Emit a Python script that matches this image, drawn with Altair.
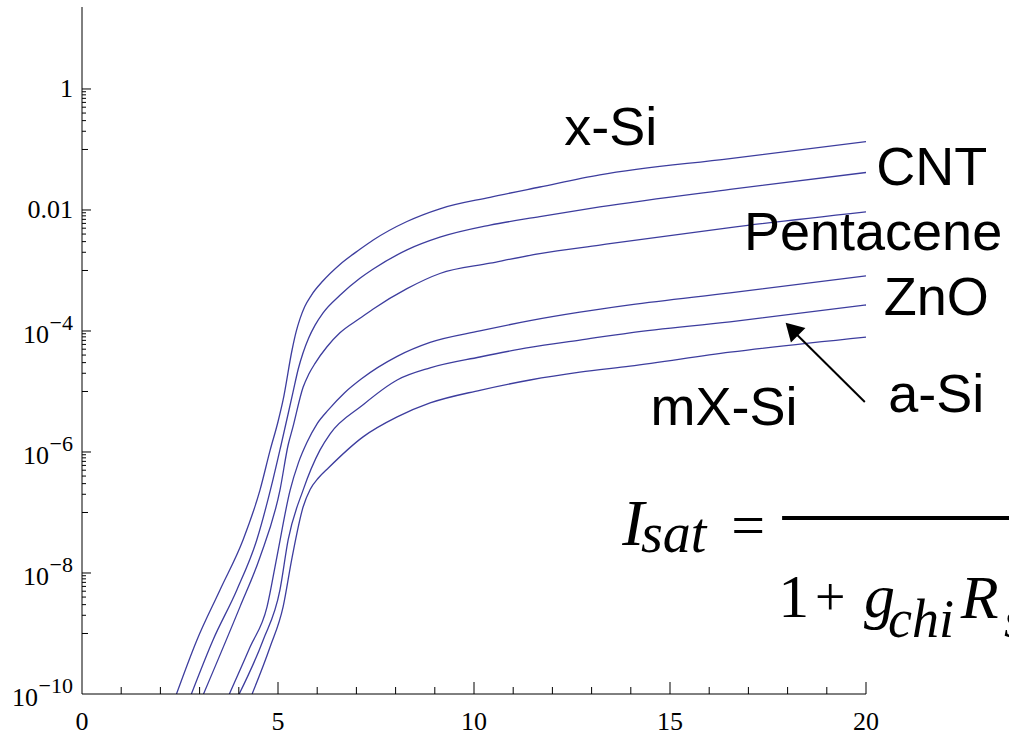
import altair as alt
import pandas as pd
import math

# ---------------- data (x = gate voltage, log_i = log10 of current) ----------------
series_names = ["x-Si", "CNT", "Pentacene", "ZnO", "a-Si", "mX-Si"]

xsi_x = [2.41, 2.93, 3.52, 4.11, 4.54, 4.80, 5.00, 5.13, 5.36, 5.46, 5.56, 5.68, 5.85, 6.15, 6.58, 7.09, 7.42, 8.29, 9.13, 10.41, 11.68, 13.21, 16.53, 20.0]
xsi_lg = [-10.0, -9.11, -8.28, -7.45, -6.63, -5.97, -5.50, -5.14, -4.31, -4.02, -3.80, -3.60, -3.41, -3.17, -2.90, -2.65, -2.50, -2.19, -1.98, -1.79, -1.62, -1.42, -1.15, -0.87]

cnt_x = [2.79, 3.34, 3.95, 4.46, 4.87, 5.08, 5.38, 5.52, 5.64, 5.78, 5.95, 6.15, 6.58, 7.09, 7.42, 8.29, 9.13, 10.41, 11.68, 13.21, 16.53, 20.0]
cnt_lg = [-10.0, -9.11, -8.28, -7.45, -6.46, -5.88, -5.02, -4.62, -4.36, -4.12, -3.90, -3.70, -3.41, -3.13, -2.98, -2.66, -2.45, -2.25, -2.11, -1.95, -1.66, -1.38]

pent_x = [3.10, 4.03, 4.54, 5.05, 5.26, 5.38, 5.64, 5.78, 5.95, 6.25, 6.58, 7.09, 7.42, 8.29, 9.13, 10.41, 11.68, 13.21, 16.53, 20.0]
pent_lg = [-10.0, -8.56, -7.74, -6.63, -5.88, -5.59, -4.93, -4.72, -4.53, -4.26, -4.03, -3.79, -3.64, -3.30, -3.05, -2.88, -2.72, -2.58, -2.29, -2.03]

zno_x = [3.76, 4.29, 4.72, 4.97, 5.31, 5.52, 5.74, 6.00, 6.29, 6.70, 7.13, 8.04, 8.88, 10.15, 11.43, 12.70, 13.98, 16.53, 20.0]
zno_lg = [-10.0, -9.22, -8.56, -7.74, -6.63, -6.18, -5.84, -5.53, -5.30, -5.02, -4.79, -4.42, -4.19, -4.00, -3.83, -3.69, -3.57, -3.37, -3.09]

asi_x = [4.01, 4.62, 5.05, 5.26, 5.64, 6.07, 6.33, 7.13, 8.04, 8.88, 10.15, 11.43, 12.70, 13.98, 16.53, 20.0]
asi_lg = [-10.0, -9.11, -8.28, -7.45, -6.63, -5.97, -5.70, -5.24, -4.81, -4.61, -4.43, -4.27, -4.15, -4.03, -3.85, -3.57]

mxsi_x = [4.34, 4.80, 5.13, 5.36, 5.64, 5.82, 6.03, 6.29, 7.17, 8.04, 8.88, 10.15, 11.43, 12.70, 13.98, 16.53, 20.0]
mxsi_lg = [-10.0, -9.22, -8.56, -7.74, -6.91, -6.62, -6.43, -6.26, -5.75, -5.42, -5.19, -4.98, -4.81, -4.68, -4.58, -4.35, -4.10]

# axis ticks / labels
x_label_values = [0, 5, 10, 15, 20]
x_major_ticks = [5, 10, 15, 20]
x_minor_ticks = [1, 2, 3, 4, 6, 7, 8, 9, 11, 12, 13, 14, 16, 17, 18, 19]
y_label_values = [0, -2, -4, -6, -8, -10]
y_label_base = ["1", "0.01", "10", "10", "10", "10"]
y_label_exp = ["", "", "\u22124", "\u22126", "\u22128", "\u221210"]
y_mid_ticks = [-1, -3, -5, -7, -9]

# curve labels (x, log_i position of text)
label_text = ["x-Si", "CNT", "Pentacene", "ZnO", "a-Si", "mX-Si"]
label_x = [13.49, 21.68, 20.18, 21.79, 21.79, 16.38]
label_y = [-0.926, -1.587, -2.661, -3.736, -5.339, -5.554]

# formula pieces
f_text = ["I", "sat", "=", "1", "+", "g", "chi", "R", "s"]
f_x = [13.78, 14.26, 16.56, 17.76, 18.70, 19.95, 20.56, 22.42, 23.52]
f_y = [-7.537, -7.653, -7.537, -8.727, -8.70, -8.727, -9.058, -8.744, -9.058]
f_size = [66, 56, 60, 62, 54, 62, 54, 62, 54]
f_italic = [True, True, False, False, False, True, True, True, True]
frac_x = [17.86]
frac_x2 = [23.72]
frac_y = [-7.091]

# arrow a-Si -> curve
arrow_tail = (19.97, -5.174)
arrow_shaft_end = (18.22, -4.05)
arrow_head = (18.11, -3.967)

# ---------------- build tables ----------------
rows = []
for name, xs, lg in zip(series_names,
                        [xsi_x, cnt_x, pent_x, zno_x, asi_x, mxsi_x],
                        [xsi_lg, cnt_lg, pent_lg, zno_lg, asi_lg, mxsi_lg]):
    for a, b in zip(xs, lg):
        rows.append({"series": name, "vgs": a, "log_i": b})
df = pd.DataFrame(rows)

W, H = 784, 687
LINE_COLOR = "#3d3d9e"
xscale = alt.Scale(domain=[0, 20], nice=False, zero=False)
yscale = alt.Scale(domain=[-10, 1.355], nice=False, zero=False)

def X(f):
    return alt.X(f, scale=xscale, axis=None)

def Y(f):
    return alt.Y(f, scale=yscale, axis=None)

lines = alt.Chart(df).mark_line(
    color=LINE_COLOR, strokeWidth=1.3, interpolate="monotone", clip=True
).encode(x=X("vgs:Q"), y=Y("log_i:Q"), detail="series:N")

one = pd.DataFrame({"k": [0]})
y_domain = alt.Chart(one).mark_rule(color="black", strokeWidth=1).encode(
    x=alt.value(0), y=alt.value(0), y2=alt.value(H))
x_domain = alt.Chart(one).mark_rule(color="black", strokeWidth=1).encode(
    x=alt.value(0), x2=alt.value(W), y=alt.value(H))

# y tick marks (inward)
minor_vals = []
for L in [0, -2, -4, -6, -8]:
    for k in range(2, 10):
        minor_vals.append(L - 1 + math.log10(k))

def yticks(vals, length):
    return alt.Chart(pd.DataFrame({"v": vals})).mark_rule(color="black", strokeWidth=1).encode(
        y=Y("v:Q"), x=alt.value(0), x2=alt.value(length))

def xticks(vals, length):
    return alt.Chart(pd.DataFrame({"v": vals})).mark_rule(color="black", strokeWidth=1).encode(
        x=X("v:Q"), y=alt.value(H), y2=alt.value(H - length))

ytick_layers = [yticks(y_label_values[:-1], 9), yticks(y_mid_ticks, 6), yticks(minor_vals, 4)]
xtick_layers = [xticks(x_major_ticks, 12), xticks(x_minor_ticks, 7)]

# x labels
xlab = alt.Chart(pd.DataFrame({"v": x_label_values, "t": [str(v) for v in x_label_values]})).mark_text(
    align="center", baseline="middle", font="Liberation Serif", fontSize=26, color="black"
).encode(x=X("v:Q"), y=alt.value(H + 28), text="t:N")

# y labels
SERIF = "Liberation Serif"
RIGHT = -9
ylab = pd.DataFrame({"v": y_label_values, "base": y_label_base, "exp": y_label_exp})
ylab["n"] = [len(e) for e in y_label_exp]
plain = ylab[ylab["n"] == 0]
ylab_layers = [
    alt.Chart(plain).mark_text(align="right", baseline="middle", font=SERIF, fontSize=26, color="black")
    .encode(y=Y("v:Q"), x=alt.value(RIGHT), text="base:N"),
    alt.Chart(ylab[ylab["n"] > 0]).mark_text(align="right", baseline="middle", font=SERIF, fontSize=22,
                                             color="black", dy=-8)
    .encode(y=Y("v:Q"), x=alt.value(RIGHT), text="exp:N"),
    alt.Chart(ylab[ylab["n"] == 2]).mark_text(align="right", baseline="middle", font=SERIF, fontSize=26,
                                              color="black", dy=4)
    .encode(y=Y("v:Q"), x=alt.value(RIGHT - 24), text="base:N"),
    alt.Chart(ylab[ylab["n"] == 3]).mark_text(align="right", baseline="middle", font=SERIF, fontSize=26,
                                              color="black", dy=4)
    .encode(y=Y("v:Q"), x=alt.value(RIGHT - 35), text="base:N"),
]

# curve labels
labs = alt.Chart(pd.DataFrame({"t": label_text, "x": label_x, "y": label_y})).mark_text(
    align="center", baseline="alphabetic", font="Liberation Sans", fontSize=54, color="black"
).encode(x=X("x:Q"), y=Y("y:Q"), text="t:N")

# formula
fdf = pd.DataFrame({"t": f_text, "x": f_x, "y": f_y, "size": f_size, "italic": f_italic})
formula_layers = []
for (sz, it), grp in fdf.groupby(["size", "italic"]):
    formula_layers.append(
        alt.Chart(grp).mark_text(
            align="left", baseline="alphabetic", font=SERIF,
            fontSize=int(sz), fontStyle="italic" if it else "normal", color="black"
        ).encode(x=X("x:Q"), y=Y("y:Q"), text="t:N")
    )
frac = alt.Chart(pd.DataFrame({"x": frac_x, "x2": frac_x2, "y": frac_y})).mark_rule(
    color="black", strokeWidth=4
).encode(x=X("x:Q"), x2="x2:Q", y=Y("y:Q"))

# arrow
shaft = alt.Chart(pd.DataFrame({"x": [arrow_tail[0]], "x2": [arrow_shaft_end[0]],
                                "y": [arrow_tail[1]], "y2": [arrow_shaft_end[1]]})).mark_rule(
    color="black", strokeWidth=2
).encode(x=X("x:Q"), x2="x2:Q", y=Y("y:Q"), y2="y2:Q")
head = alt.Chart(pd.DataFrame({"x": [arrow_head[0]], "y": [arrow_head[1]]})).mark_point(
    shape="triangle-up", filled=True, size=420, angle=315, color="black", opacity=1
).encode(x=X("x:Q"), y=Y("y:Q"))

chart = alt.layer(
    lines, y_domain, x_domain, *ytick_layers, *xtick_layers, xlab, *ylab_layers,
    labs, *formula_layers, frac, shaft, head
).properties(
    width=W, height=H,
    padding={"left": 82, "top": 7, "right": 143, "bottom": 47},
    autosize=alt.AutoSizeParams(type="none"),
    background="white",
).configure_view(stroke=None)

chart.save("out.html", embed_options={"renderer": "svg", "actions": False})
